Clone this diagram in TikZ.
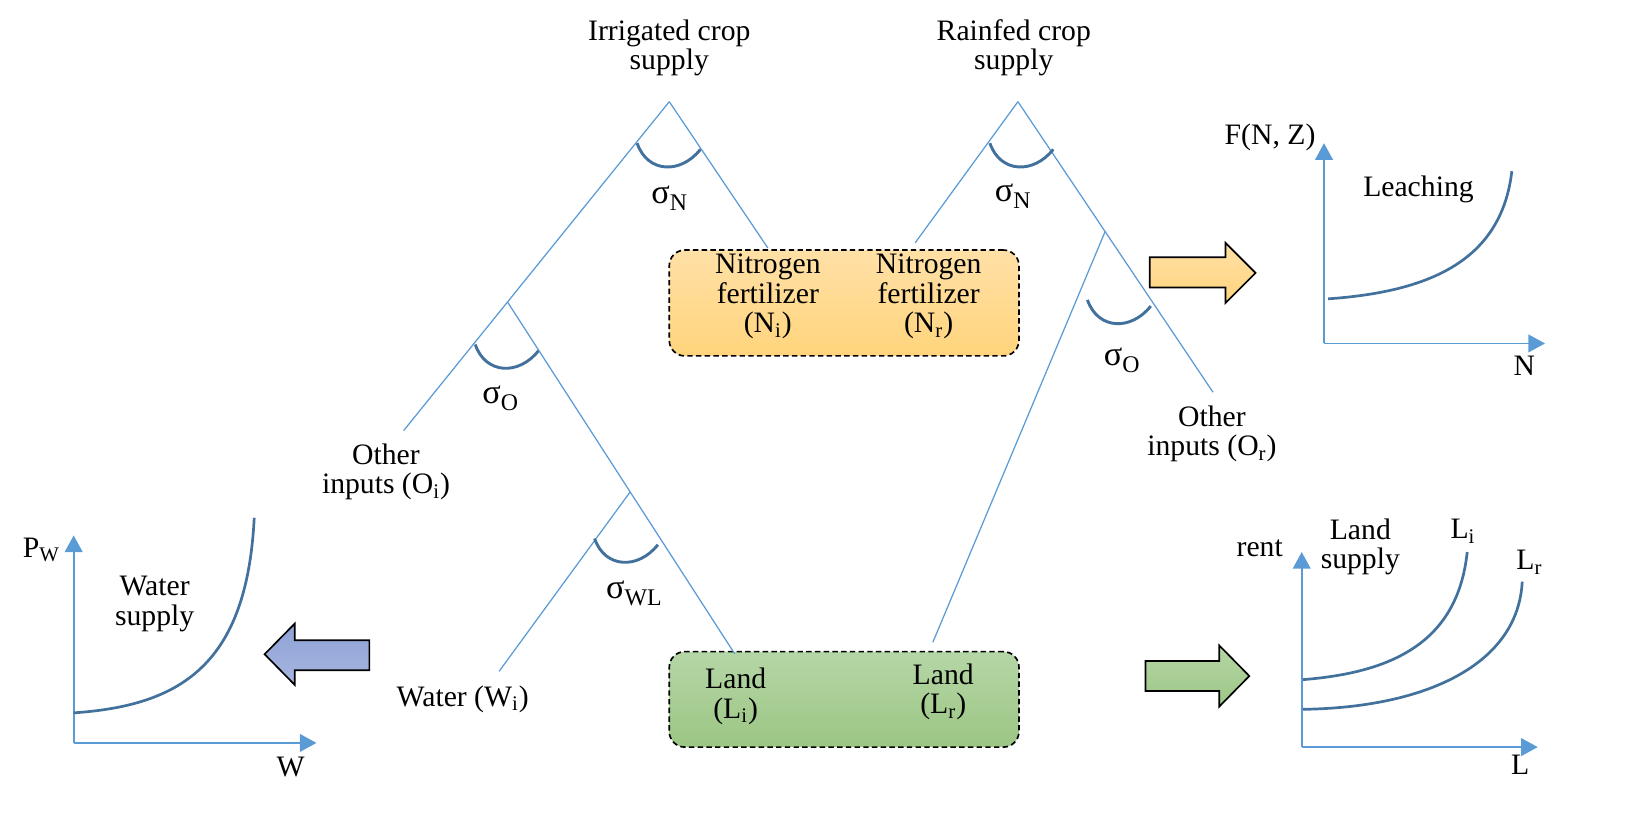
\documentclass[tikz,border=0pt]{standalone}
\usepackage{fontspec}
\setmainfont{Liberation Serif}
\usetikzlibrary{arrows.meta,calc}

\definecolor{treeblue}{HTML}{5B9BD5}
\definecolor{arcblue}{HTML}{41719C}
\definecolor{orangetop}{HTML}{FFE0A6}
\definecolor{orangebot}{HTML}{FFD47C}
\definecolor{greentop}{HTML}{B5D6A6}
\definecolor{greenbot}{HTML}{9CC684}
\definecolor{bluetop}{HTML}{8FA2D6}
\definecolor{bluebot}{HTML}{A6B6DF}

% elasticity arc, given by its lowest point
\newcommand{\elasarc}[1]{\draw[elas] ($(#1)+(-30,-23)$) .. controls ($(#1)+(-20,6)$) and ($(#1)+(12,7)$) .. ($(#1)+(31,-17)$);}
% sigma with its subscript
\newcommand{\sig}[1]{{\fontsize{16.5}{16}\selectfont σ}\raisebox{-3.5pt}{\fontsize{11.5}{12}\selectfont #1}}

\begin{document}
\begin{tikzpicture}[x=0.5pt, y=-0.5pt,
	every node/.style={font=\fontsize{14.3}{14.2}\selectfont, align=center, inner sep=0pt},
	treeline/.style={draw=treeblue, line width=0.6pt},
	elas/.style={draw=arcblue, line width=1.4pt},
	axis/.style={draw=treeblue, line width=0.9pt, -{Triangle[length=8pt,width=8.5pt]}},
	curve/.style={draw=arcblue, line width=1.3pt},
	inputbox/.style={draw, line width=0.8pt, rounded corners=7.5pt, dash pattern=on 2.6pt off 1.6pt},
	bigarrow/.style={draw, line width=0.8pt}]
				\path[use as bounding box] (0,0) rectangle (1568,796);
				
				% input boxes
				\node[inputbox, top color=orangetop, bottom color=orangebot, minimum width=168.5pt, minimum height=51pt] (nitrobox) at (813.5,292) {};
				\node[inputbox, top color=greentop, bottom color=greenbot, minimum width=168.5pt, minimum height=46pt] (landbox) at (813.5,674) {};
				
				\node (irrsupply) at (645,46) {Irrigated crop\\supply};
				\node (rfsupply) at (977,46) {Rainfed crop\\supply};
				\node (nitroi) at (740,286) {Nitrogen\\fertilizer\\(N\textsubscript{i})};
				\node (nitror) at (895,286) {Nitrogen\\fertilizer\\(N\textsubscript{r})};
				\node (landi) at (709,671) {Land\\(L\textsubscript{i})};
				\node (landr) at (909,667) {Land\\(L\textsubscript{r})};
				\node (otheri) at (372,455) {Other\\inputs (O\textsubscript{i})};
				\node (wateri) at (446,674) {Water (W\textsubscript{i})};
				\node (otherr) at (1168,418) {Other\\inputs (O\textsubscript{r})};
				
				% nesting trees
				\coordinate (irr) at (645,98);
				\coordinate (irro) at (389,415);
				\coordinate (irrn) at (740,239);
				\coordinate (irrj) at ($(irr)!0.609!(irro)$);
				\coordinate (irrl) at (708,630);
				\coordinate (irrjw) at ($(irrj)!0.54!(irrl)$);
				\coordinate (irrw) at (481,647);
				\coordinate (rf) at (981,98);
				\coordinate (rfn) at (882,234);
				\coordinate (rfo) at (1169,378);
				\coordinate (rfj) at ($(rf)!0.447!(rfo)$);
				\coordinate (rfl) at (899,619);
				
				\draw[treeline] (irr) -- (irro);
				\draw[treeline] (irr) -- (irrn);
				\draw[treeline] (irrj) -- (irrl);
				\draw[treeline] (irrjw) -- (irrw);
				\draw[treeline] (rf) -- (rfn);
				\draw[treeline] (rf) -- (rfo);
				\draw[treeline] (rfj) -- (rfl);
				
				\elasarc{644,161}
				\elasarc{984,161}
				\elasarc{488,355}
				\elasarc{603,542}
				\elasarc{1078,312}
				
				\node (sigmani) at (645,191) {\sig{N}};
				\node (sigmanr) at (976,189) {\sig{N}};
				\node (sigmaoi) at (482,384) {\sig{O}};
				\node (sigmawl) at (611,572) {\sig{WL}};
				\node (sigmaor) at (1081,347) {\sig{O}};
				
				% block arrows
				\draw[bigarrow, top color=orangetop, bottom color=orangebot] (1108,248) -- (1181,248) -- (1181,234) -- (1210,263) -- (1181,292) -- (1181,277) -- (1108,277) -- cycle;
				\draw[bigarrow, top color=greentop, bottom color=greenbot] (1104,637) -- (1175,637) -- (1175,622) -- (1204,651.5) -- (1175,681) -- (1175,666) -- (1104,666) -- cycle;
				\draw[bigarrow, top color=bluetop, bottom color=bluebot] (356,617) -- (284,617) -- (284,601) -- (255,630.5) -- (284,660) -- (284,646) -- (356,646) -- cycle;
				
				% leaching chart
				\coordinate (leacho) at (1276,331);
				\coordinate (leachy) at (1276,138);
				\coordinate (leachx) at (1489,331);
				\draw[axis] (leacho) -- (leachy);
				\draw[axis] (leacho) -- (leachx);
				\draw[curve] (1280,288) .. controls (1380,281) and (1447,250) .. (1457,165);
				\node (fnz) at (1224,132) {F(N, Z)};
				\node (leaching) at (1367,183) {Leaching};
				\node (nlabel) at (1469,353) {N};
				
				% water chart
				\coordinate (watero) at (71,716);
				\coordinate (watery) at (71,516);
				\coordinate (waterx) at (305,716);
				\draw[axis] (watero) -- (watery);
				\draw[axis] (watero) -- (waterx);
				\draw[curve] (71,687) .. controls (175,680) and (238,640) .. (245,499);
				\node (pw) at (40,530) {P\textsubscript{W}};
				\node (watersupply) at (149,582) {Water\\supply};
				\node (wlabel) at (280,739) {W};
				
				% land chart
				\coordinate (lando) at (1254.5,720);
				\coordinate (landy) at (1254.5,532);
				\coordinate (landx) at (1482,720);
				\draw[axis] (lando) -- (landy);
				\draw[axis] (lando) -- (landx);
				\draw[curve] (1255.5,655) .. controls (1345,648) and (1405,617) .. (1414,532);
				\draw[curve] (1255.5,683.6) .. controls (1375,682) and (1463,640) .. (1467,560.6);
				\node (rent) at (1214,528) {rent};
				\node (landsupply) at (1311,527) {Land\\supply};
				\node (lilabel) at (1410,512) {L\textsubscript{i}};
				\node (lrlabel) at (1474,542) {L\textsubscript{r}};
				\node (llabel) at (1465,737) {L};
			\end{tikzpicture}
\end{document}
